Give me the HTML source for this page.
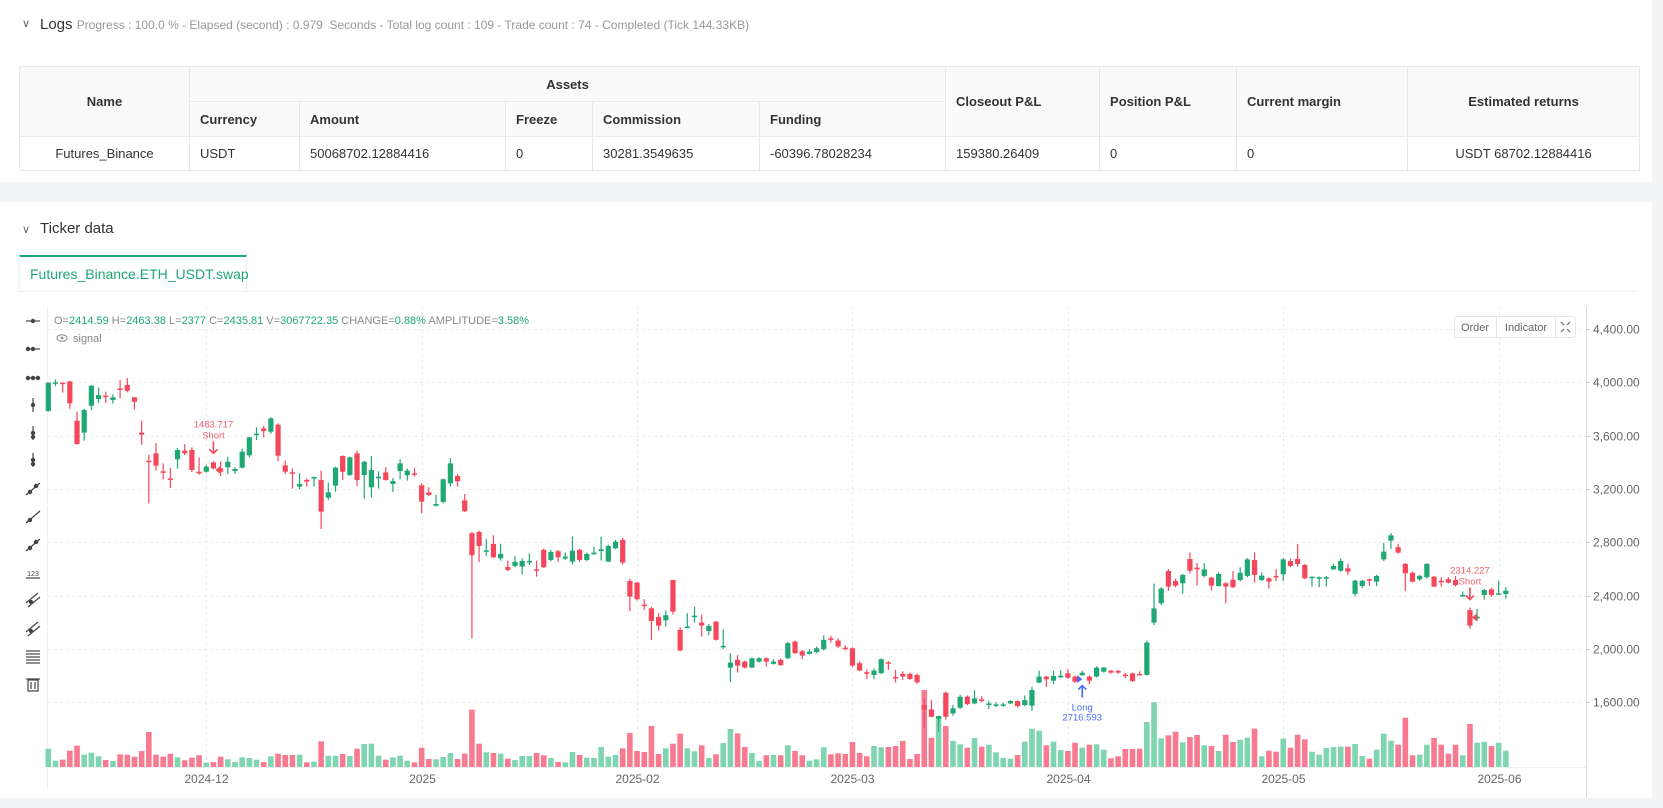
<!DOCTYPE html>
<html><head><meta charset="utf-8">
<style>
*{box-sizing:border-box;margin:0;padding:0}
body{width:1663px;height:808px;background:#f3f4f6;font-family:"Liberation Sans",Arial,sans-serif;position:relative;overflow:hidden;color:#333}
.card{position:absolute;left:0;width:1652px;background:#fff}
.hdr{position:absolute;font-size:15px;color:#333}
.chev{position:absolute;font-size:11px;color:#666}
table{position:absolute;left:19px;top:66px;width:1620px;border-collapse:collapse;table-layout:fixed;font-size:13px}
td,th{border:1px solid #e8e8e8;padding:0 10px;text-align:left;font-weight:normal;color:#333}
th{background:#fafafa;font-weight:bold;color:#333;height:35px}
td{height:34px}
.c{text-align:center}
</style></head>
<body>
<div class="card" style="top:0;height:182px">
  <span class="chev" style="left:22px;top:17px">&#8744;</span>
  <span class="hdr" style="left:40px;top:16px">Logs <span style="font-size:12px;color:#999">Progress : 100.0 % - Elapsed (second) : 0.979 &nbsp;Seconds - Total log count : 109 - Trade count : 74 - Completed (Tick 144.33KB)</span></span>
  <table>
    <colgroup><col style="width:170px"><col style="width:110px"><col style="width:206px"><col style="width:87px"><col style="width:167px"><col style="width:186px"><col style="width:154px"><col style="width:137px"><col style="width:171px"><col style="width:232px"></colgroup>
    <tr><th rowspan="2" class="c">Name</th><th colspan="5" class="c">Assets</th><th rowspan="2">Closeout P&amp;L</th><th rowspan="2">Position P&amp;L</th><th rowspan="2">Current margin</th><th rowspan="2" class="c">Estimated returns</th></tr>
    <tr><th>Currency</th><th>Amount</th><th>Freeze</th><th>Commission</th><th>Funding</th></tr>
    <tr><td class="c">Futures_Binance</td><td>USDT</td><td>50068702.12884416</td><td>0</td><td>30281.3549635</td><td>-60396.78028234</td><td>159380.26409</td><td>0</td><td>0</td><td class="c">USDT 68702.12884416</td></tr>
  </table>
</div>
<div class="card" style="top:202px;height:596px">
  <span class="chev" style="left:22px;top:21px">&#8744;</span>
  <span class="hdr" style="left:40px;top:18px">Ticker data</span>
  <div style="position:absolute;left:19px;top:53px;width:228px;height:36px;border-top:2px solid #1fa874;border-left:1px solid #eee;border-right:1px solid #eee;color:#1fa874;font-size:14px;line-height:34px;padding-left:10px">Futures_Binance.ETH_USDT.swap</div>
  <div style="position:absolute;left:19px;top:89px;width:1618px;height:1px;background:#eee"></div>
</div>
<svg id="chart" width="1663" height="808" style="position:absolute;left:0;top:0" font-family="Liberation Sans, Arial, sans-serif">
  <g id="grid"></g>
  <line x1="47.5" y1="306" x2="47.5" y2="790" stroke="#eee"/>
  <line x1="1586.5" y1="306" x2="1586.5" y2="798" stroke="#ddd"/>
  <g id="vols"></g>
  <g id="candles"></g>
  <g id="marks"></g>
  <g id="yaxis"></g>
  <g id="xaxis"></g>
  <g id="tools"></g>
  <text x="54" y="324" font-size="11" fill="#888">O=<tspan fill="#1fa874">2414.59</tspan> H=<tspan fill="#1fa874">2463.38</tspan> L=<tspan fill="#1fa874">2377</tspan> C=<tspan fill="#1fa874">2435.81</tspan> V=<tspan fill="#1fa874">3067722.35</tspan> CHANGE=<tspan fill="#1fa874">0.88%</tspan> AMPLITUDE=<tspan fill="#1fa874">3.58%</tspan></text>
  <g>
    <ellipse cx="62" cy="338" rx="5" ry="3.3" fill="none" stroke="#888"/><circle cx="62" cy="338" r="1.4" fill="#888"/>
    <text x="73" y="342" font-size="11" fill="#888">signal</text>
  </g>
  <g>
    <rect x="1454.5" y="316.5" width="121" height="21" rx="3" fill="#fff" stroke="#e6e6e6"/>
    <line x1="1496.5" y1="317" x2="1496.5" y2="337" stroke="#e6e6e6"/><line x1="1555.5" y1="317" x2="1555.5" y2="337" stroke="#e6e6e6"/>
    <text x="1475" y="331" font-size="11" fill="#666" text-anchor="middle">Order</text>
    <text x="1526" y="331" font-size="11" fill="#666" text-anchor="middle">Indicator</text>
    <g stroke="#666" stroke-width="1.2"><path d="M1561 322l3 3M1570 322l-3 3M1561 332l3-3M1570 332l-3-3"/></g>
  </g>
</svg>
<script>
const opens=[3785,3990,3997,4007,3712,3622,3824,3874,3900,3867,3954,3980,3887,3622,3412,3467,3332,3279,3422,3487,3492,3329,3329,3399,3354,3362,3334,3359,3452,3604,3654,3629,3682,3377,3324,3217,3267,3279,3267,3134,3224,3447,3304,3467,3304,3212,3279,3324,3237,3334,3302,3317,3227,3174,3074,3102,3242,3297,3114,2867,2877,2729,2787,2679,2614,2622,2617,2649,2597,2742,2667,2732,2677,2654,2742,2667,2709,2734,2654,2754,2817,2509,2497,2332,2304,2239,2214,2517,2142,2162,2237,2197,2134,2204,2012,1859,1917,1904,1859,1904,1929,1887,1917,1929,2054,1982,1962,1974,1997,2079,2062,2009,2004,1892,1824,1804,1817,1899,1789,1812,1812,1804,1578,1545,1475,1670,1515,1558,1640,1590,1620,1578,1573,1575,1590,1608,1578,1573,1746,1791,1761,1786,1816,1791,1801,1791,1791,1828,1836,1834,1806,1816,1811,1804,2196,2342,2584,2509,2492,2674,2609,2547,2534,2471,2492,2518,2516,2547,2666,2516,2529,2547,2559,2659,2674,2629,2532,2529,2529,2596,2586,2604,2412,2471,2522,2504,2671,2812,2762,2637,2571,2522,2537,2541,2511,2522,2516,2397,2291,2228,2404,2446,2409,2411];
const highs=[4000,4022,4000,4010,3780,3800,3980,3960,3930,3910,4017,4032,3890,3712,3457,3545,3392,3357,3507,3537,3512,3437,3382,3407,3407,3442,3362,3502,3592,3662,3672,3737,3692,3412,3354,3317,3282,3294,3337,3247,3367,3452,3442,3487,3412,3447,3332,3362,3282,3422,3352,3357,3242,3212,3157,3277,3432,3312,3162,2877,2887,2822,2852,2787,2662,2697,2679,2717,2662,2752,2742,2742,2722,2842,2752,2722,2767,2842,2782,2817,2832,2527,2502,2372,2314,2267,2287,2517,2162,2267,2317,2257,2187,2207,2147,1967,1952,1912,1934,1937,1937,1922,1927,2052,2062,1992,1997,2017,2102,2097,2077,2027,2012,1907,1847,1852,1927,1907,1842,1832,1822,1814,1630,1615,1500,1680,1580,1655,1650,1688,1645,1610,1600,1595,1613,1613,1650,1715,1836,1796,1836,1836,1846,1799,1836,1799,1869,1864,1841,1842,1818,1822,1832,2061,2490,2462,2599,2527,2562,2723,2644,2644,2539,2574,2499,2584,2611,2681,2723,2574,2537,2597,2681,2677,2784,2637,2543,2543,2546,2639,2677,2639,2518,2518,2527,2555,2794,2869,2789,2644,2579,2555,2644,2546,2537,2537,2546,2430,2310,2300,2450,2460,2512,2463];
const lows=[3780,3972,3922,3802,3530,3562,3790,3845,3845,3840,3880,3925,3797,3530,3092,3337,3272,3207,3352,3452,3327,3307,3322,3347,3297,3312,3312,3354,3437,3567,3587,3614,3407,3312,3202,3197,3217,3217,2899,3117,3179,3267,3297,3222,3127,3137,3202,3262,3177,3272,3262,3292,3017,3147,3067,3092,3217,3217,3027,2077,2652,2697,2682,2662,2582,2612,2557,2627,2542,2607,2657,2652,2667,2632,2652,2657,2707,2662,2652,2747,2632,2282,2362,2292,2067,2137,2167,2257,1982,2157,2197,2092,2102,2062,1997,1752,1822,1852,1857,1897,1867,1882,1872,1922,1962,1922,1957,1967,1987,2047,2007,1987,1862,1832,1772,1772,1812,1842,1747,1767,1767,1737,1403,1485,1378,1468,1498,1550,1576,1585,1600,1548,1563,1565,1585,1560,1570,1535,1743,1713,1734,1780,1776,1743,1799,1734,1786,1822,1813,1813,1780,1751,1799,1799,2177,2327,2434,2462,2414,2565,2474,2537,2437,2467,2342,2457,2504,2537,2496,2509,2451,2509,2509,2611,2616,2523,2467,2462,2467,2593,2579,2555,2393,2457,2471,2471,2658,2750,2714,2434,2499,2509,2527,2462,2467,2490,2467,2390,2150,2210,2370,2390,2405,2377];
const closes=[3997,4000,3990,3842,3537,3792,3974,3904,3890,3887,3947,3937,3854,3607,3402,3374,3322,3272,3492,3467,3342,3317,3367,3354,3329,3404,3349,3479,3587,3614,3634,3729,3449,3329,3314,3237,3254,3289,3029,3174,3359,3329,3437,3267,3404,3342,3292,3267,3259,3392,3337,3309,3104,3154,3087,3272,3392,3257,3032,2702,2772,2739,2687,2712,2592,2652,2659,2659,2587,2612,2727,2687,2692,2737,2667,2712,2722,2747,2772,2804,2647,2392,2372,2322,2209,2174,2252,2279,1987,2167,2249,2174,2172,2067,2022,1897,1874,1859,1929,1929,1904,1904,1877,2042,1967,1949,1979,2004,2067,2067,2017,2002,1874,1837,1812,1837,1922,1892,1777,1792,1774,1749,1545,1490,1495,1490,1553,1640,1585,1628,1615,1590,1583,1583,1608,1570,1615,1690,1791,1771,1796,1798,1783,1753,1821,1761,1859,1859,1821,1821,1796,1758,1801,2047,2303,2452,2467,2474,2554,2586,2596,2596,2474,2562,2467,2462,2571,2671,2554,2549,2504,2537,2671,2622,2637,2529,2541,2537,2537,2622,2659,2579,2511,2511,2511,2547,2729,2851,2722,2567,2504,2547,2637,2467,2499,2496,2478,2404,2174,2241,2441,2404,2416,2436];
const volumes=[18.3,6.3,7.3,16.3,21.3,12.3,14.3,10.7,7,6,12.7,12.3,10.3,16,35,12.3,10.3,13.3,9.7,6.7,9.3,11.7,4.3,5,10.3,7.7,5,9.7,9,7.3,5,10.7,13.3,12,12,12.3,4.7,5.3,25.7,11.3,11.3,13,11,18.3,23,23.3,11.3,7.3,9.7,11.3,6.3,4.7,19.3,8,7.7,10,14,8,13.3,57.3,23.3,14.7,14,13.3,8.3,7,11,11,14,11.7,9,5,4.7,15,12,9.3,9,20,10.3,12,18.7,34,16,15,41,13,18.7,23.3,33.3,18.7,15.7,21.7,9,12.7,24,38,33.7,20,14,6,11.7,12,11.7,21.7,16,11.7,6.3,7.7,19.7,12.7,13.7,13,25,14,10.7,21,19.7,20,21,26,8,13,77,29.3,50.3,41,26,22.7,19.3,29,20.3,22.3,14.7,9,8.3,12,25.3,38.3,36.3,21.7,25.3,17,16,24.3,19.3,22.3,22.7,17.3,8.7,10.7,18,18,18.3,45,64.7,28.7,31.7,35.3,24.7,30,32,21.7,21,16,32.3,25,27.3,29.3,38.3,10.7,16.3,15.3,28.3,19.3,32.3,27.7,15.3,12.3,19,20,20.3,20.3,23,11,8.3,17.3,33.3,26.3,22.3,49.3,11.7,12.3,22.3,29,22.3,13.3,22.3,11.7,43,24.3,25.3,21,24.3,16.3];
const priceTicks=[4400,4000,3600,3200,2800,2400,2000,1600];
const priceTickLabels=["4,400.00","4,000.00","3,600.00","3,200.00","2,800.00","2,400.00","2,000.00","1,600.00"];
const dateTickIndex=[22,52,82,112,142,172,202];
const dateTickLabels=["2024-12","2025","2025-02","2025-03","2025-04","2025-05","2025-06"];
const signalIndex=[23,144,198];
const signalType=["Short","Long","Short"];
const signalPrice=["1483.717","2716.593","2314.227"];

const NS="http://www.w3.org/2000/svg";
function xS(i){return 48.3+i*7.18;}
function yS(p){return 329+(4400-p)*0.13325;}
function vS(v){return 767-v;}
function mk(tag,attrs,parent){const e=document.createElementNS(NS,tag);for(const k in attrs)e.setAttribute(k,attrs[k]);parent.appendChild(e);return e;}
const G=id=>document.getElementById(id);
const UP="#1fa874",DN="#f5475b",VUP="#7fd5b2",VDN="#f87a90";

priceTicks.forEach((p,k)=>{
  const y=Math.round(yS(p))+0.5;
  const l=mk('line',{x1:48,x2:1586,y1:y,y2:y,stroke:'#ebebeb','stroke-dasharray':'3 3'},G('grid'));
  
  
  mk('line',{x1:1586,x2:1590,y1:y,y2:y,stroke:'#ccc'},G('yaxis'));
  const t=mk('text',{x:1593,y:y+4,'font-size':12,fill:'#666'},G('yaxis'));
  t.textContent=priceTickLabels[k];
  
  
});
dateTickIndex.forEach((i,k)=>{
  const x=Math.round(xS(i))+0.5;
  const l=mk('line',{x1:x,x2:x,y1:306,y2:767,stroke:'#ebebeb','stroke-dasharray':'3 3'},G('grid'));
  
  
  const t=mk('text',{x:x,y:783,'font-size':12,fill:'#666','text-anchor':'middle'},G('xaxis'));
  t.textContent=dateTickLabels[k];
  
  
});
mk('line',{x1:48,x2:1586,y1:767.5,y2:767.5,stroke:'#eee'},G('grid'));

volumes.forEach((v,i)=>{
  const up=closes[i]>=opens[i];
  const r=mk('rect',{x:xS(i)-2.8,y:vS(v),width:5.6,height:767-vS(v),fill:up?VUP:VDN},G('vols'));
  
  
});
opens.forEach((o,i)=>{
  const c=closes[i],up=c>=o,col=up?UP:DN,x=xS(i);
  const g=mk('g',{},G('candles'));
  
  
  mk('line',{x1:x,x2:x,y1:yS(highs[i]),y2:yS(lows[i]),stroke:col,'stroke-width':1.2},g);
  const top=yS(Math.max(o,c)),bot=yS(Math.min(o,c));
  mk('rect',{x:x-2.6,y:top,width:5.2,height:Math.max(1.5,bot-top),fill:col},g);
});
signalIndex.forEach((i,k)=>{
  const x=xS(i),g=mk('g',{},G('marks'));
  
  
  if(signalType[k]==="Short"){
    const yb=yS(highs[i])-8,col="#f0606e";
    mk('line',{x1:x,x2:x,y1:yb-12,y2:yb,stroke:DN,'stroke-width':1.6},g);
    mk('path',{d:`M${x-4} ${yb-4}L${x} ${yb}L${x+4} ${yb-4}`,fill:'none',stroke:DN,'stroke-width':1.6},g);
    const t1=mk('text',{x:x,y:yb-26,'font-size':9.5,fill:col,'text-anchor':'middle'},g);t1.textContent=signalPrice[k];
    const t2=mk('text',{x:x,y:yb-15,'font-size':9.5,fill:col,'text-anchor':'middle'},g);t2.textContent="Short";
    const ty=yS((opens[i+1]+closes[i+1])/2);
    mk('path',{d:`M${x+2} ${ty}L${x+7} ${ty-4}L${x+7} ${ty+4}Z`,fill:DN},g);
  } else {
    const yt=yS(lows[i])+10,col="#4a6cf7";
    mk('line',{x1:x,x2:x,y1:yt,y2:yt+12,stroke:col,'stroke-width':1.6},g);
    mk('path',{d:`M${x-4} ${yt+4}L${x} ${yt}L${x+4} ${yt+4}`,fill:'none',stroke:col,'stroke-width':1.6},g);
    const t1=mk('text',{x:x,y:yt+25,'font-size':9.5,fill:col,'text-anchor':'middle'},g);t1.textContent="Long";
    const t2=mk('text',{x:x,y:yt+35,'font-size':9.5,fill:col,'text-anchor':'middle'},g);t2.textContent=signalPrice[k];
    const ty=yS((opens[i-1]+closes[i-1])/2);
    mk('path',{d:`M${x-5} ${ty-4}L${x} ${ty}L${x-5} ${ty+4}Z`,fill:col},g);
  }
});
// drawing toolbar
const toolY=[321,349,378,405,433,460,489,517,545,573,600,629,657,684];
const toolNames=["horizontal-line-tool","horizontal-ray-tool","horizontal-segment-tool","vertical-line-tool","vertical-ray-tool","vertical-segment-tool","trend-line-tool","ray-tool","arrow-tool","price-label-tool","parallel-channel-tool","multi-channel-tool","fib-tool","delete-tool"];
toolY.forEach((y,k)=>{
  const g=mk('g',{stroke:'#444','stroke-width':1.2,fill:'#444'},G('tools'));
  
  
  const x=33;
  if(k<3){mk('line',{x1:x-7,x2:x+7,y1:y,y2:y},g);mk('circle',{cx:x,cy:y,r:1.6},g);if(k>0){mk('circle',{cx:x-5,cy:y,r:1.6},g);}if(k==2)mk('circle',{cx:x+5,cy:y,r:1.6},g);}
  else if(k<6){mk('line',{x1:x,x2:x,y1:y-7,y2:y+7},g);mk('circle',{cx:x,cy:y,r:1.6},g);if(k>3)mk('circle',{cx:x,cy:y+4,r:1.6},g);}
  else if(k<9){mk('line',{x1:x-7,x2:x+7,y1:y+6,y2:y-6},g);mk('circle',{cx:x-3,cy:y+3,r:1.6},g);if(k!=7)mk('circle',{cx:x+3,cy:y-3,r:1.6},g);}
  else if(k==9){const t=mk('text',{x:x,y:y+3,'font-size':7,'text-anchor':'middle',stroke:'none'},g);t.textContent='123';mk('line',{x1:x-7,x2:x+7,y1:y+5,y2:y+5},g);}
  else if(k<12){mk('line',{x1:x-7,x2:x+5,y1:y+3,y2:y-7},g);mk('line',{x1:x-5,x2:x+7,y1:y+7,y2:y-3},g);mk('circle',{cx:x-2,cy:y+2,r:1.5},g);}
  else if(k==12){[-6,-3,0,3,6].forEach(d=>mk('line',{x1:x-7,x2:x+7,y1:y+d,y2:y+d},g));}
  else {mk('rect',{x:x-5,y:y-4,width:10,height:11,fill:'none'},g);mk('line',{x1:x-7,x2:x+7,y1:y-5,y2:y-5},g);mk('line',{x1:x-2,x2:x-2,y1:y-2,y2:y+5},g);mk('line',{x1:x+2,x2:x+2,y1:y-2,y2:y+5},g);}
});
</script>
</body></html>
